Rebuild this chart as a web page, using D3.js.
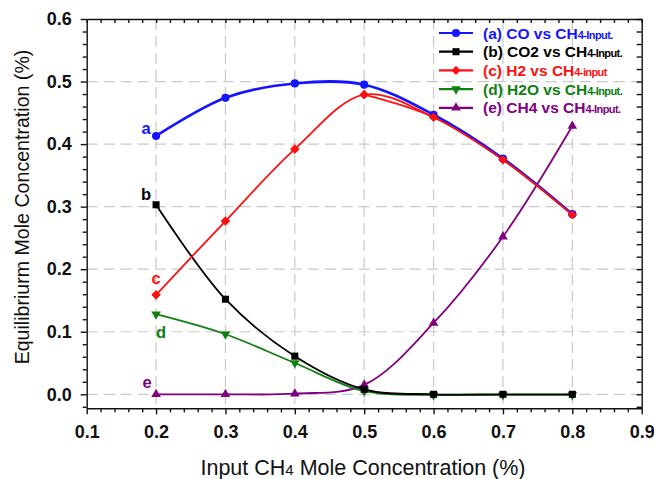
<!DOCTYPE html>
<html>
<head>
<meta charset="utf-8">
<script src="https://cdn.jsdelivr.net/npm/d3@7"></script>
<style>
  html, body { margin: 0; padding: 0; background: #fff; }
  svg { display: block; font-family: "Liberation Sans", Arial, sans-serif; }
</style>
</head>
<body>
<svg id="chart" width="654" height="479"></svg>
<script>
// Input CH4 mole concentration (x) for each equilibrium point
const inputCH4 = [0.2, 0.3, 0.4, 0.5, 0.6, 0.7, 0.8];

// Equilibrium mole concentration of each species
const coValues  = [0.413, 0.474, 0.497, 0.495, 0.447, 0.377, 0.288];
const co2Values = [0.303, 0.152, 0.061, 0.008, 0.000, 0.000, 0.000];
const h2Values  = [0.159, 0.277, 0.392, 0.479, 0.443, 0.375, 0.287];
const h2oValues = [0.128, 0.096, 0.050, 0.005, -0.001, -0.001, -0.001];
const ch4Values = [0.000, 0.000, 0.001, 0.015, 0.114, 0.252, 0.429];

const seriesKeys   = ["a", "b", "c", "d", "e"];
const legendLabels = [
  ["(a) CO vs CH", "4-Input."],
  ["(b) CO2 vs CH", "4-Input."],
  ["(c) H2 vs CH", "4-input"],
  ["(d) H2O vs CH", "4-Input."],
  ["(e) CH4 vs CH", "4-Input."]
];

// Tick labels
const xTicks = [0.1, 0.2, 0.3, 0.4, 0.5, 0.6, 0.7, 0.8, 0.9];
const yTicks = [0.0, 0.1, 0.2, 0.3, 0.4, 0.5, 0.6];

const colors  = ["#1414ff", "#000000", "#ff1010", "#108010", "#800080"];
const symbols = ["circle", "square", "diamond", "down", "up"];

const series = [coValues, co2Values, h2Values, h2oValues, ch4Values].map((vals, i) => ({
  key: seriesKeys[i],
  color: colors[i],
  symbol: symbols[i],
  points: vals.map((v, j) => ({ x: inputCH4[j], y: v }))
}));

const svg = d3.select("#chart");
const W = 654, H = 479;
const margin = { top: 19, right: 12.3, bottom: 70.7, left: 86.7 };
const iw = W - margin.left - margin.right;
const ih = H - margin.top - margin.bottom;

const x = d3.scaleLinear().domain([0.1, 0.9]).range([0, iw]);
const y = d3.scaleLinear().domain([-0.0224, 0.6]).range([ih, 0]);

const g = svg.append("g").attr("transform", `translate(${margin.left},${margin.top})`);

// dashed grid at every major tick
const grid = g.append("g").attr("stroke", "#c9c9c9").attr("stroke-width", 1.2)
  .attr("stroke-dasharray", "11,6").attr("fill", "none");
xTicks.slice(1, -1).forEach(t => {
  grid.append("line").attr("x1", x(t)).attr("x2", x(t)).attr("y1", 0).attr("y2", ih);
});
yTicks.forEach(t => {
  if (t >= 0.6) return;
  grid.append("line").attr("x1", 0).attr("x2", iw).attr("y1", y(t)).attr("y2", y(t));
});

// axes: left/bottom ticks outward, top/right mirrored inward
const minorX = d3.range(0.1, 0.9001, 0.02).filter(v => Math.abs(Math.round(v * 10) - v * 10) > 1e-6);
const minorY = d3.range(-0.02, 0.6001, 0.02).filter(v => Math.abs(Math.round(v * 10) - v * 10) > 1e-6);

function styleAxis(sel) {
  sel.selectAll("path, line").attr("stroke", "#111").attr("stroke-width", 1.4);
}
function styleLabels(sel) {
  sel.selectAll("text").attr("font-size", 18).attr("font-weight", "bold").attr("fill", "#111")
    .attr("font-family", "Liberation Sans, Arial, sans-serif");
}

g.append("g").attr("transform", `translate(0,${ih})`)
  .call(d3.axisBottom(x).tickValues(xTicks).tickFormat(d3.format(".1f")).tickSizeInner(6).tickSizeOuter(0).tickPadding(11))
  .call(styleAxis).call(styleLabels);
g.append("g").attr("transform", `translate(0,${ih})`)
  .call(d3.axisBottom(x).tickValues(minorX).tickFormat("").tickSizeInner(4).tickSizeOuter(0))
  .call(styleAxis).call(s => s.select("path").remove());

g.append("g")
  .call(d3.axisLeft(y).tickValues(yTicks).tickFormat(d3.format(".1f")).tickSizeInner(6).tickSizeOuter(0).tickPadding(9))
  .call(styleAxis).call(styleLabels);
g.append("g")
  .call(d3.axisLeft(y).tickValues(minorY).tickFormat("").tickSizeInner(4).tickSizeOuter(0))
  .call(styleAxis).call(s => s.select("path").remove());

g.append("g")
  .call(d3.axisTop(x).tickValues(xTicks.concat(minorX)).tickFormat("").tickSizeInner(-4).tickSizeOuter(0))
  .call(styleAxis);
g.append("g").attr("transform", `translate(${iw},0)`)
  .call(d3.axisRight(y).tickValues(yTicks.concat(minorY)).tickFormat("").tickSizeInner(-5).tickSizeOuter(0))
  .call(styleAxis);

// axis titles
svg.append("text")
  .attr("x", 363).attr("y", 475)
  .attr("text-anchor", "middle").attr("font-size", 21.5).attr("fill", "#111")
  .text("Input CH")
  .append("tspan").attr("font-size", 15).text("4")
  .append("tspan").attr("font-size", 21.5).text(" Mole Concentration (%)");

svg.append("text")
  .attr("transform", "translate(29,207) rotate(-90)")
  .attr("text-anchor", "middle").attr("font-size", 19.6).attr("fill", "#111")
  .text("Equilibriurm Mole Concentration (%)");

// markers
function symbolPath(kind) {
  switch (kind) {
    case "circle":  return d3.symbol(d3.symbolCircle, 52)();
    case "square":  return d3.symbol(d3.symbolSquare, 50)();
    case "diamond": return d3.symbol(d3.symbolSquare, 42)();
    default:        return d3.symbol(d3.symbolTriangle, 40)();
  }
}
function symbolRotate(kind) {
  return kind === "diamond" ? 45 : kind === "down" ? 180 : 0;
}

const line = d3.line().x(d => x(d.x)).y(d => y(d.y)).curve(d3.curveCatmullRom.alpha(0.5));

// draw later series first so the blue CO curve stays visible where it meets H2
const order = [4, 3, 1, 2, 0];
order.forEach(i => {
  const s = series[i];
  const sg = g.append("g");
  sg.append("path").datum(s.points).attr("d", line)
    .attr("fill", "none").attr("stroke", s.color).attr("stroke-width", i === 0 ? 2.6 : 1.8);
  sg.selectAll("path.mk").data(s.points).join("path").attr("class", "mk")
    .attr("d", symbolPath(s.symbol))
    .attr("transform", d => `translate(${x(d.x)},${y(d.y)}) rotate(${symbolRotate(s.symbol)})`)
    .attr("fill", s.color);
});
// redraw H2 over the shared stretch, blue shows as an edge beneath
{
  const s = series[2];
  g.append("path").datum(s.points.slice(3)).attr("d", line)
    .attr("fill", "none").attr("stroke", s.color).attr("stroke-width", 1.8);
  g.selectAll("path.mk2").data(s.points).join("path").attr("class", "mk2")
    .attr("d", symbolPath(s.symbol))
    .attr("transform", d => `translate(${x(d.x)},${y(d.y)}) rotate(45)`)
    .attr("fill", s.color);
}

// series letters beside the first points
const letterPos = [
  { dx: -10, dy: -8 },
  { dx: -10, dy: -11 },
  { dx: 0, dy: -17 },
  { dx: 5, dy: 18 },
  { dx: -9, dy: -12 }
];
series.forEach((s, i) => {
  const p = s.points[0];
  g.append("text")
    .attr("x", x(p.x) + letterPos[i].dx).attr("y", y(p.y) + letterPos[i].dy)
    .attr("text-anchor", "middle").attr("dominant-baseline", "central")
    .attr("font-size", 16.5).attr("font-weight", "bold").attr("fill", s.color)
    .text(s.key);
});

// legend
const lg = svg.append("g").attr("transform", "translate(439,33)");
series.forEach((s, i) => {
  const row = lg.append("g").attr("transform", `translate(0,${i * 18.7})`);
  row.append("line").attr("x1", 0).attr("x2", 34).attr("y1", 0).attr("y2", 0)
    .attr("stroke", s.color).attr("stroke-width", 2.2);
  row.append("path").attr("d", symbolPath(s.symbol))
    .attr("transform", `translate(17,0) rotate(${symbolRotate(s.symbol)})`)
    .attr("fill", s.color);
  const t = row.append("text").attr("x", 44).attr("y", 5.5)
    .attr("font-size", 15.5).attr("fill", s.color).attr("font-weight", "bold");
  t.append("tspan").text(legendLabels[i][0]);
  t.append("tspan").attr("font-size", 11).attr("letter-spacing", -0.6).text(legendLabels[i][1]);
});
</script>
</body>
</html>
